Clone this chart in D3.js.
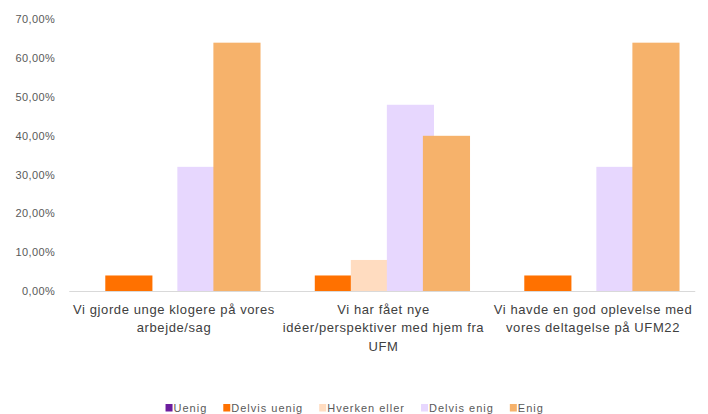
<!DOCTYPE html>
<html>
<head>
<meta charset="utf-8">
<script src="https://cdn.jsdelivr.net/npm/d3@7"></script>
<style>
  html, body { margin: 0; padding: 0; background: #ffffff; }
  svg { display: block; }
</style>
</head>
<body>
<svg id="chart" width="708" height="414"></svg>
<script>
// ---- data ----
const categories = [
  "Vi gjorde unge klogere på vores\narbejde/sag",
  "Vi har fået nye\nidéer/perspektiver med hjem fra\nUFM",
  "Vi havde en god oplevelse med\nvores deltagelse på UFM22"
];
const seriesNames = ["Uenig", "Delvis uenig", "Hverken eller", "Delvis enig", "Enig"];
const uenig       = [0.00, 0.00, 0.00];
const delvisUenig = [0.04, 0.04, 0.04];
const hverken     = [0.00, 0.08, 0.00];
const delvisEnig  = [0.32, 0.48, 0.32];
const enig        = [0.64, 0.40, 0.64];
const yTicks = [0, 0.1, 0.2, 0.3, 0.4, 0.5, 0.6, 0.7];
const seriesValues = [uenig, delvisUenig, hverken, delvisEnig, enig];
const colors = ["#6c1d9e", "#ff7100", "#ffdcc0", "#e7d7fe", "#f6b26b"];

// ---- layout ----
const svg = d3.select("#chart");
const margin = { left: 69.25, right: 10.25, top: 19.4, bottom: 123 };
const W = 708, H = 414;

const x = d3.scaleBand()
  .domain(categories)
  .range([margin.left, W - margin.right])
  .paddingInner(0).paddingOuter(0);

const y = d3.scaleLinear()
  .domain([0, 0.7])
  .range([H - margin.bottom, margin.top]);

const bw = x.bandwidth();
const step = bw * 0.172;
const barW = bw * 0.225;

const fmt = v => (v * 100).toFixed(2).replace(".", ",") + "%";

// y axis labels (no line, no ticks)
const yAxis = d3.axisLeft(y).tickValues(yTicks).tickFormat(fmt).tickSize(0).tickPadding(14);
const gy = svg.append("g").attr("transform", `translate(${margin.left},0)`).call(yAxis);
gy.select(".domain").remove();
gy.selectAll("text")
  .attr("fill", "#595959")
  .style("font-family", "'Liberation Sans', Arial, sans-serif")
  .style("font-size", "11px")
  .style("letter-spacing", "0.4px");

// bars
seriesNames.forEach((name, si) => {
  svg.append("g")
    .selectAll("rect")
    .data(categories.map((c, ci) => ({ c, v: seriesValues[si][ci] })))
    .join("rect")
    .attr("x", d => x(d.c) + si * step)
    .attr("width", barW)
    .attr("y", d => y(d.v))
    .attr("height", d => y(0) - y(d.v))
    .attr("fill", colors[si]);
});

// baseline
svg.append("line")
  .attr("x1", x.range()[0]).attr("x2", x.range()[1] - 2.5)
  .attr("y1", y(0) + 0.5).attr("y2", y(0) + 0.5)
  .attr("stroke", "#d9d9d9").attr("stroke-width", 1.2);

// category labels
const gx = svg.append("g");
categories.forEach(c => {
  const lines = c.split("\n");
  const t = gx.append("text")
    .attr("x", x(c) + bw / 2)
    .attr("y", y(0) + 22.5)
    .attr("text-anchor", "middle")
    .attr("fill", "#404040")
    .style("font-family", "'Liberation Sans', Arial, sans-serif")
    .style("font-size", "13px")
    .style("letter-spacing", "0.6px");
  lines.forEach((ln, i) => {
    t.append("tspan")
      .attr("x", x(c) + bw / 2)
      .attr("dy", i === 0 ? 0 : 18.7)
      .text(ln);
  });
});

// legend
const legend = svg.append("g");
const items = seriesNames.map((n, i) => {
  const g = legend.append("g");
  g.append("rect").attr("width", 7).attr("height", 7.5).attr("y", 404).attr("fill", colors[i]);
  const t = g.append("text")
    .attr("x", 8).attr("y", 411.5)
    .attr("fill", "#595959")
    .style("font-family", "'Liberation Sans', Arial, sans-serif")
    .style("font-size", "11px")
    .style("letter-spacing", "1px")
    .text(n);
  return { g, w: 8 + t.node().getComputedTextLength() };
});
const gap = 16;
const total = d3.sum(items, d => d.w) + gap * (items.length - 1);
let cx = 354.7 - total / 2;
items.forEach(it => {
  it.g.attr("transform", `translate(${cx},0)`);
  cx += it.w + gap;
});
</script>
</body>
</html>
